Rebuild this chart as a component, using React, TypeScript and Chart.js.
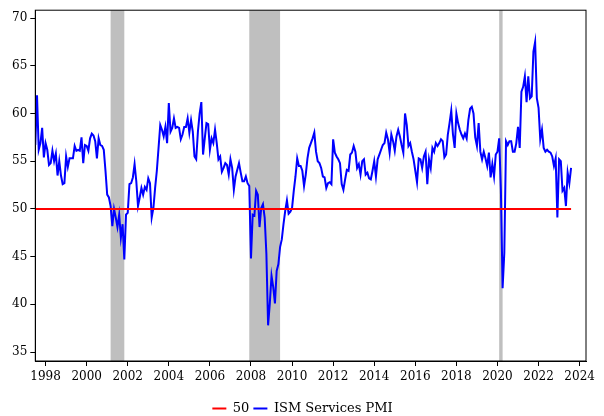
import React, { useEffect, useRef } from 'react';
import { Chart, registerables } from 'chart.js';

Chart.register(...registerables);

// monthly series, first value = Jul 1997
const START_YEAR = 1997;
const START_MONTH = 7;

const pmiValues: number[] = [
  // 1997 (Jul-Dec)
  56.7, 61.9, 56.2, 56.9, 58.5, 55.4,
  // 1998
  56.9, 56.2, 54.6, 54.8, 56.1, 55.0, 55.8, 53.5, 55.0, 53.5, 52.6, 52.7,
  // 1999
  55.5, 54.4, 55.3, 55.3, 55.3, 56.6, 56.1, 56.2, 56.1, 57.5, 54.8, 56.7,
  // 2000
  56.6, 56.1, 57.4, 57.9, 57.7, 57.1, 55.3, 57.4, 56.7, 56.6, 56.2, 54.0,
  // 2001
  51.5, 51.2, 50.3, 48.2, 50.0, 49.1, 48.1, 49.4, 47.0, 48.4, 44.7, 49.4,
  // 2002
  49.6, 52.6, 52.7, 53.3, 54.7, 52.9, 50.3, 51.2, 52.2, 51.5, 52.3, 52.0,
  // 2003
  53.2, 52.7, 49.1, 50.1, 52.2, 54.0, 56.4, 58.8, 58.3, 57.6, 58.6, 56.9,
  // 2004
  61.1, 58.1, 58.5, 59.5, 58.5, 58.6, 58.5, 57.3, 57.8, 58.6, 58.6, 59.5,
  // 2005
  58.0, 59.3, 58.1, 55.5, 55.2, 58.1, 60.0, 61.2, 55.7, 57.4, 59.0, 58.9,
  // 2006
  56.2, 57.4, 56.9, 58.3, 56.9, 55.2, 55.5, 53.9, 54.3, 54.8, 54.6, 53.6,
  // 2007
  55.2, 54.3, 52.0, 53.4, 54.1, 54.8, 53.8, 52.9, 52.9, 53.4, 52.7, 52.4,
  // 2008
  44.8, 49.4, 49.3, 51.9, 51.5, 48.1, 50.1, 50.5, 49.1, 45.3, 37.8, 40.1,
  // 2009
  43.0, 41.8, 40.1, 43.5, 44.2, 46.0, 46.8, 48.4, 49.8, 50.9, 49.5, 49.7,
  // 2010
  50.1, 51.9, 53.4, 55.3, 54.5, 54.5, 54.0, 52.4, 53.6, 55.3, 56.4, 56.9,
  // 2011
  57.4, 58.0, 56.0, 55.0, 54.8, 54.3, 53.4, 53.3, 52.2, 52.7, 52.8, 52.6,
  // 2012
  57.3, 55.9, 55.5, 55.2, 54.8, 52.6, 52.0, 53.1, 54.1, 54.0, 55.7, 55.9,
  // 2013
  56.6, 56.0, 54.3, 54.7, 53.6, 55.0, 55.2, 53.6, 53.8, 53.2, 53.1, 54.0,
  // 2014
  55.0, 53.4, 55.2, 55.7, 56.2, 56.7, 56.9, 58.0, 57.3, 55.9, 57.8, 57.1,
  // 2015
  56.1, 57.6, 58.3, 57.6, 56.7, 55.9, 60.0, 58.8, 56.6, 56.9, 56.0, 55.2,
  // 2016
  54.0, 52.8, 55.3, 55.2, 54.3, 55.5, 56.0, 52.6, 55.2, 54.3, 56.4, 56.0,
  // 2017
  56.9, 56.6, 56.9, 57.3, 57.1, 55.4, 55.7, 57.8, 59.0, 60.3, 57.8, 56.4,
  // 2018
  60.0, 59.0, 58.3, 57.8, 57.4, 57.9, 57.4, 59.3, 60.5, 60.7, 60.0, 57.5,
  // 2019
  56.6, 59.0, 56.0, 55.2, 56.0, 55.3, 54.5, 55.9, 53.3, 54.7, 53.4, 55.7,
  // 2020
  56.0, 57.4, 52.0, 41.7, 45.4, 57.1, 56.7, 57.1, 57.1, 56.0, 56.0, 56.9,
  // 2021
  58.6, 56.4, 62.3, 62.8, 63.9, 61.2, 63.9, 61.6, 61.8, 66.5, 67.5, 61.6,
  // 2022
  60.6, 57.3, 58.3, 56.4, 56.0, 56.2, 56.0, 55.9, 55.5, 54.5, 55.3, 49.1,
  // 2023 (Jan-Aug)
  55.2, 55.0, 51.9, 52.2, 50.3, 53.8, 52.7, 54.3,
];

const THRESHOLD = 50;
const seriesLabels = ['50', 'ISM Services PMI'];

// NBER recessions, start/end month
const recessions: [string, string][] = [
  ['2001-03', '2001-11'],
  ['2007-12', '2009-06'],
  ['2020-02', '2020-04'],
];

const xTickYears = [1998, 2000, 2002, 2004, 2006, 2008, 2010, 2012, 2014, 2016, 2018, 2020, 2022, 2024];
const yTickValues = [35, 40, 45, 50, 55, 60, 65, 70];

const X_MIN = 1997.5;
const X_MAX = 2024.31;
const Y_MIN = 34.06;
const Y_MAX = 70.83;

const FONT = "'DejaVu Serif', Georgia, serif";

const monthToYear = (s: string) => {
  const [y, m] = s.split('-').map(Number);
  return y + (m - 1) / 12;
};
const indexToYear = (i: number) => START_YEAR + (START_MONTH - 1) / 12 + i / 12;

const recessionPlugin = {
  id: 'recessionShading',
  afterLayout(chart: any) {
    // legend sits centred under the plot box, not under the whole canvas
    if (chart.legend) chart.legend.left = 19;
  },
  beforeDatasetsDraw(chart: any) {
    const { ctx, chartArea, scales } = chart;
    ctx.save();
    ctx.fillStyle = '#bfbfbf';
    recessions.forEach(([s, e]) => {
      const x0 = scales.x.getPixelForValue(monthToYear(s));
      const x1 = scales.x.getPixelForValue(monthToYear(e));
      ctx.fillRect(x0, chartArea.top, x1 - x0, chartArea.bottom - chartArea.top);
    });
    ctx.restore();
  },
  afterDraw(chart: any) {
    const { ctx, chartArea } = chart;
    ctx.save();
    ctx.strokeStyle = '#000';
    ctx.lineWidth = 1;
    ctx.strokeRect(chartArea.left, chartArea.top, chartArea.right - chartArea.left, chartArea.bottom - chartArea.top);
    ctx.restore();
  },
};

export default function App() {
  const canvasRef = useRef<HTMLCanvasElement>(null);

  useEffect(() => {
    if (!canvasRef.current) return;
    const pmiPoints = pmiValues.map((v, i) => ({ x: indexToYear(i), y: v }));
    const linePoints = pmiValues.map((_, i) => ({ x: indexToYear(i), y: THRESHOLD }));

    const chart = new Chart(canvasRef.current, {
      type: 'line',
      data: {
        datasets: [
          {
            label: seriesLabels[0],
            data: linePoints,
            borderColor: '#ff0000',
            backgroundColor: '#ff0000',
            borderWidth: 2,
            pointRadius: 0,
          },
          {
            label: seriesLabels[1],
            data: pmiPoints,
            borderColor: '#0000ff',
            backgroundColor: '#0000ff',
            borderWidth: 2,
            pointRadius: 0,
          },
        ],
      },
      options: {
        animation: false,
        responsive: true,
        maintainAspectRatio: false,
        layout: { padding: { top: 8, right: 18, left: 0, bottom: -9 } },
        plugins: {
          tooltip: { enabled: false },
          legend: {
            position: 'bottom',
            labels: {
              usePointStyle: true,
              pointStyle: 'line',
              pointStyleWidth: 14,
              padding: 4,
              color: '#000',
              font: { family: FONT, size: 13 },
            },
          },
        },
        scales: {
          x: {
            type: 'linear',
            min: X_MIN,
            max: X_MAX,
            afterFit: (scale: any) => {
              scale.height = 37;
            },
            afterBuildTicks: (scale: any) => {
              scale.ticks = xTickYears.map((v) => ({ value: v }));
            },
            grid: { display: true, drawOnChartArea: false, drawTicks: true, tickLength: 5, color: '#000' },
            border: { display: true, color: '#000' },
            ticks: {
              color: '#000',
              padding: 4,
              maxRotation: 0,
              autoSkip: false,
              font: { family: FONT, size: 12 },
              callback: (v: any) => String(v),
            },
          },
          y: {
            min: Y_MIN,
            max: Y_MAX,
            afterFit: (scale: any) => {
              scale.width = 35.3;
            },
            afterBuildTicks: (scale: any) => {
              scale.ticks = yTickValues.map((v) => ({ value: v }));
            },
            grid: { display: true, drawOnChartArea: false, drawTicks: true, tickLength: 5, color: '#000' },
            border: { display: true, color: '#000' },
            ticks: {
              color: '#000',
              padding: 3,
              font: { family: FONT, size: 12 },
              callback: (v: any) => String(v),
            },
          },
        },
      },
      plugins: [recessionPlugin],
    });

    return () => chart.destroy();
  }, []);

  return (
    <div style={{ position: 'fixed', left: 0, top: 0, width: 604, height: 416, background: '#fff' }}>
      <canvas ref={canvasRef} />
    </div>
  );
}
